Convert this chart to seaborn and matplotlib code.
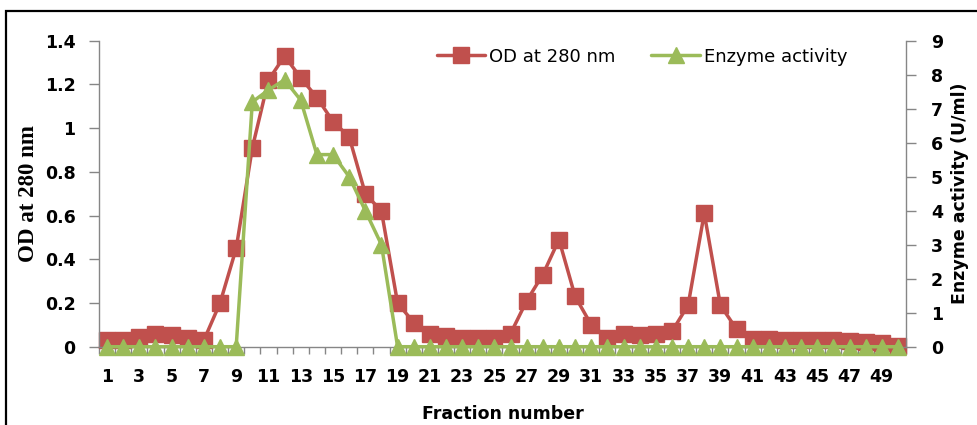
import numpy as np
import pandas as pd
import matplotlib
matplotlib.use("Agg")
import matplotlib.pyplot as plt
import matplotlib.patches as patches
from matplotlib.ticker import FixedLocator, NullFormatter
import seaborn as sns

sns.set_theme(style="white")
plt.rcParams['font.family'] = ['DejaVu Sans']
plt.rcParams['text.color'] = 'black'
plt.rcParams['axes.labelcolor'] = 'black'
plt.rcParams['xtick.labelcolor'] = 'black'
plt.rcParams['ytick.labelcolor'] = 'black'

# data
fractions = list(range(1, 51))
od_280 = [0.03, 0.03, 0.045, 0.06, 0.055, 0.04, 0.03, 0.20, 0.45, 0.91,
          1.22, 1.33, 1.23, 1.14, 1.03, 0.96, 0.70, 0.62, 0.20, 0.11,
          0.06, 0.05, 0.04, 0.04, 0.04, 0.06, 0.21, 0.33, 0.49, 0.23,
          0.10, 0.04, 0.06, 0.055, 0.06, 0.07, 0.19, 0.61, 0.19, 0.08,
          0.035, 0.035, 0.03, 0.03, 0.03, 0.03, 0.025, 0.022, 0.018, 0.005]
enzyme = [0, 0, 0, 0, 0, 0, 0, 0, 0, 7.2,
          7.55, 7.85, 7.25, 5.65, 5.65, 5.0, 4.0, 3.0, 0, 0,
          0, 0, 0, 0, 0, 0, 0, 0, 0, 0,
          0, 0, 0, 0, 0, 0, 0, 0, 0, 0,
          0, 0, 0, 0, 0, 0, 0, 0, 0, 0]
od_ticks = [0, 0.2, 0.4, 0.6, 0.8, 1, 1.2, 1.4]
od_tick_labels = ['0', '0.2', '0.4', '0.6', '0.8', '1', '1.2', '1.4']
enz_ticks = list(range(0, 10))

df = pd.DataFrame({'Fraction': fractions, 'OD': od_280, 'Enzyme': enzyme})

red = '#C0504D'
green = '#9BBB59'
grey = '#868686'

fig = plt.figure(figsize=(9.78, 4.25), dpi=100)
ax = fig.add_axes([99 / 978, 1 - 346.7 / 425, 807 / 978, 306 / 425])
ax2 = ax.twinx()

sns.lineplot(data=df, x='Fraction', y='OD', ax=ax, color=red, lw=2.5,
             marker='s', markersize=11, markeredgecolor=red, markeredgewidth=1,
             clip_on=False, label='OD at 280 nm', legend=False)
sns.lineplot(data=df, x='Fraction', y='Enzyme', ax=ax2, color=green, lw=2.5,
             marker='^', markersize=12, markeredgecolor=green, markeredgewidth=1,
             clip_on=False, label='Enzyme activity', legend=False)

ax.set_xlim(0.5, 50.5)
ax.set_ylim(0, 1.4)
ax2.set_ylim(0, 9)

for a in (ax, ax2):
    for s in a.spines.values():
        s.set_color(grey)
        s.set_linewidth(1)
    a.spines['top'].set_visible(False)
ax.spines['right'].set_visible(False)
ax2.spines['left'].set_visible(False)
ax2.spines['bottom'].set_visible(False)

bold = dict(fontweight='bold', fontsize=12.5, color='black')

ax.set_yticks(od_ticks)
ax.set_yticklabels(od_tick_labels, **bold)
ax.tick_params(axis='y', direction='out', length=7, width=1, color=grey, pad=10, left=True)

ax2.set_yticks(enz_ticks)
ax2.set_yticklabels([str(t) for t in enz_ticks], **bold)
ax2.tick_params(axis='y', direction='out', length=7, width=1, color=grey, pad=11, right=True)

odd = fractions[::2]
ax.set_xticks(odd)
ax.set_xticklabels([str(f) for f in odd], **bold)
ax.xaxis.set_minor_locator(FixedLocator(np.arange(0.5, 51, 1)))
ax.xaxis.set_minor_formatter(NullFormatter())
ax.tick_params(axis='x', which='major', length=0, pad=15)
ax.tick_params(axis='x', which='minor', direction='out', length=5, width=1, color=grey, bottom=True)

ax.set_xlabel('Fraction number', **bold)
ax.xaxis.set_label_coords(0.5, -0.19)
ax.set_ylabel('OD at 280 nm', fontfamily='Liberation Serif', fontweight='bold',
              fontsize=16.5, color='black')
ax.yaxis.set_label_coords(-0.074, 0.5)
ax2.set_ylabel('Enzyme activity (U/ml)', **bold)
ax2.yaxis.set_label_coords(1.056, 0.5)

h1, l1 = ax.get_legend_handles_labels()
h2, l2 = ax2.get_legend_handles_labels()
leg = fig.legend(h1 + h2, l1 + l2, loc='center', bbox_to_anchor=(642 / 978, 1 - 56.5 / 425),
                 ncol=2, frameon=False, fontsize=13, handlelength=2.7,
                 handletextpad=0.2, columnspacing=2.0)
for t in leg.get_texts():
    t.set_color('black')

# outer frame of the original figure
fig.patches.append(patches.Rectangle((6.2 / 978, -0.5), 2, 0.5 + 1 - 10.5 / 425,
                                     transform=fig.transFigure, fill=False,
                                     ec='black', lw=1.6))

fig.savefig('out.png', dpi=100)
